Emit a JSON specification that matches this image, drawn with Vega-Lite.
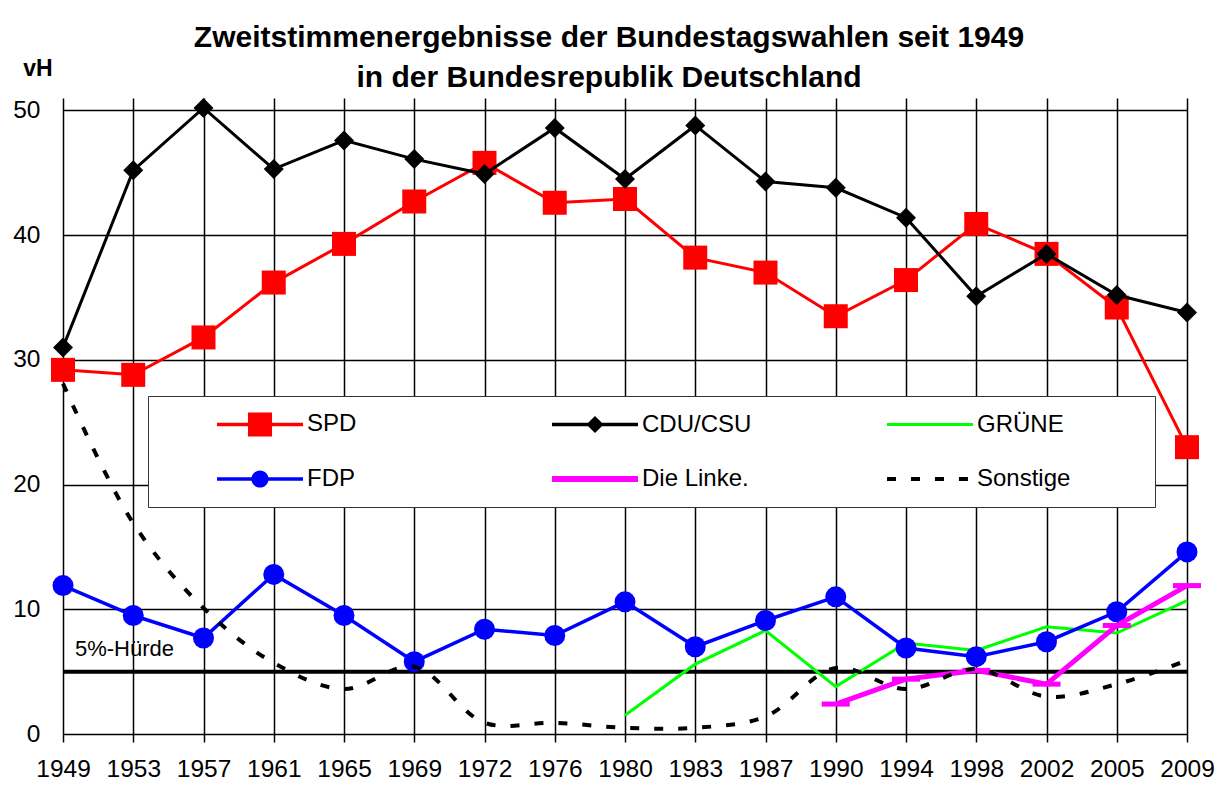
{
  "$schema": "https://vega.github.io/schema/vega-lite/v6.json",
  "width": 1124,
  "height": 636,
  "autosize": {"type": "none"},
  "padding": {"left": 63, "top": 98, "right": 32, "bottom": 54},
  "background": "white",
  "title": {
    "text": ["Zweitstimmenergebnisse der Bundestagswahlen seit 1949", "in der Bundesrepublik Deutschland"],
    "font": "Liberation Sans",
    "fontSize": 30,
    "fontWeight": "bold",
    "color": "black",
    "lineHeight": 40,
    "anchor": "middle",
    "frame": "group",
    "offset": 0,
    "dx": -16,
    "dy": 36
  },
  "datasets": {
    "votes": [
      {"year": "1949", "party": "SPD", "value": 29.2},
      {"year": "1953", "party": "SPD", "value": 28.8},
      {"year": "1957", "party": "SPD", "value": 31.8},
      {"year": "1961", "party": "SPD", "value": 36.2},
      {"year": "1965", "party": "SPD", "value": 39.3},
      {"year": "1969", "party": "SPD", "value": 42.7},
      {"year": "1972", "party": "SPD", "value": 45.8},
      {"year": "1976", "party": "SPD", "value": 42.6},
      {"year": "1980", "party": "SPD", "value": 42.9},
      {"year": "1983", "party": "SPD", "value": 38.2},
      {"year": "1987", "party": "SPD", "value": 37.0},
      {"year": "1990", "party": "SPD", "value": 33.5},
      {"year": "1994", "party": "SPD", "value": 36.4},
      {"year": "1998", "party": "SPD", "value": 40.9},
      {"year": "2002", "party": "SPD", "value": 38.5},
      {"year": "2005", "party": "SPD", "value": 34.2},
      {"year": "2009", "party": "SPD", "value": 23.0},
      {"year": "1949", "party": "CDU/CSU", "value": 31.0},
      {"year": "1953", "party": "CDU/CSU", "value": 45.2},
      {"year": "1957", "party": "CDU/CSU", "value": 50.2},
      {"year": "1961", "party": "CDU/CSU", "value": 45.3},
      {"year": "1965", "party": "CDU/CSU", "value": 47.6},
      {"year": "1969", "party": "CDU/CSU", "value": 46.1},
      {"year": "1972", "party": "CDU/CSU", "value": 44.9},
      {"year": "1976", "party": "CDU/CSU", "value": 48.6},
      {"year": "1980", "party": "CDU/CSU", "value": 44.5},
      {"year": "1983", "party": "CDU/CSU", "value": 48.8},
      {"year": "1987", "party": "CDU/CSU", "value": 44.3},
      {"year": "1990", "party": "CDU/CSU", "value": 43.8},
      {"year": "1994", "party": "CDU/CSU", "value": 41.4},
      {"year": "1998", "party": "CDU/CSU", "value": 35.1},
      {"year": "2002", "party": "CDU/CSU", "value": 38.5},
      {"year": "2005", "party": "CDU/CSU", "value": 35.2},
      {"year": "2009", "party": "CDU/CSU", "value": 33.8},
      {"year": "1980", "party": "GRÜNE", "value": 1.5},
      {"year": "1983", "party": "GRÜNE", "value": 5.6},
      {"year": "1987", "party": "GRÜNE", "value": 8.3},
      {"year": "1990", "party": "GRÜNE", "value": 3.8},
      {"year": "1994", "party": "GRÜNE", "value": 7.3},
      {"year": "1998", "party": "GRÜNE", "value": 6.7},
      {"year": "2002", "party": "GRÜNE", "value": 8.6},
      {"year": "2005", "party": "GRÜNE", "value": 8.1},
      {"year": "2009", "party": "GRÜNE", "value": 10.7},
      {"year": "1949", "party": "FDP", "value": 11.9},
      {"year": "1953", "party": "FDP", "value": 9.5},
      {"year": "1957", "party": "FDP", "value": 7.7},
      {"year": "1961", "party": "FDP", "value": 12.8},
      {"year": "1965", "party": "FDP", "value": 9.5},
      {"year": "1969", "party": "FDP", "value": 5.8},
      {"year": "1972", "party": "FDP", "value": 8.4},
      {"year": "1976", "party": "FDP", "value": 7.9},
      {"year": "1980", "party": "FDP", "value": 10.6},
      {"year": "1983", "party": "FDP", "value": 7.0},
      {"year": "1987", "party": "FDP", "value": 9.1},
      {"year": "1990", "party": "FDP", "value": 11.0},
      {"year": "1994", "party": "FDP", "value": 6.9},
      {"year": "1998", "party": "FDP", "value": 6.2},
      {"year": "2002", "party": "FDP", "value": 7.4},
      {"year": "2005", "party": "FDP", "value": 9.8},
      {"year": "2009", "party": "FDP", "value": 14.6},
      {"year": "1990", "party": "Die Linke.", "value": 2.4},
      {"year": "1994", "party": "Die Linke.", "value": 4.4},
      {"year": "1998", "party": "Die Linke.", "value": 5.1},
      {"year": "2002", "party": "Die Linke.", "value": 4.0},
      {"year": "2005", "party": "Die Linke.", "value": 8.7},
      {"year": "2009", "party": "Die Linke.", "value": 11.9},
      {"year": "1949", "party": "Sonstige", "value": 28.1},
      {"year": "1953", "party": "Sonstige", "value": 16.9},
      {"year": "1957", "party": "Sonstige", "value": 10.1},
      {"year": "1961", "party": "Sonstige", "value": 5.7},
      {"year": "1965", "party": "Sonstige", "value": 3.6},
      {"year": "1969", "party": "Sonstige", "value": 5.4},
      {"year": "1972", "party": "Sonstige", "value": 0.9},
      {"year": "1976", "party": "Sonstige", "value": 0.9},
      {"year": "1980", "party": "Sonstige", "value": 0.5},
      {"year": "1983", "party": "Sonstige", "value": 0.5},
      {"year": "1987", "party": "Sonstige", "value": 1.4},
      {"year": "1990", "party": "Sonstige", "value": 5.3},
      {"year": "1994", "party": "Sonstige", "value": 3.6},
      {"year": "1998", "party": "Sonstige", "value": 5.2},
      {"year": "2002", "party": "Sonstige", "value": 3.0},
      {"year": "2005", "party": "Sonstige", "value": 4.0},
      {"year": "2009", "party": "Sonstige", "value": 5.9}
    ]
  },
  "config": {
    "font": "Liberation Sans",
    "view": {"stroke": null},
    "axisX": {
      "labelFont": "Liberation Sans", "labelFontSize": 24.5, "labelColor": "black", "labelAngle": 0,
      "labelPadding": 15, "tickColor": "black", "tickSize": 8, "tickWidth": 1.5,
      "domain": false, "grid": true, "gridColor": "black", "gridWidth": 1.5, "gridOpacity": 1
    },
    "axisY": {
      "labelFont": "Liberation Sans", "labelFontSize": 24.5, "labelColor": "black",
      "labelPadding": 23, "ticks": false, "domain": false,
      "grid": true, "gridColor": "black", "gridWidth": 1.5, "gridOpacity": 1,
      "titleAngle": 0, "titleX": -25.5, "titleY": -23, "titleAlign": "center", "titleBaseline": "alphabetic",
      "titleFont": "Liberation Sans", "titleFontSize": 23, "titleFontWeight": "bold", "titleColor": "black"
    },
    "legend": {
      "symbolStrokeWidth": 0,
      "symbolOpacity": 1,
      "symbolSize": 462.25,
      "labelFont": "Liberation Sans",
      "labelFontSize": 24,
      "labelColor": "black",
      "labelLimit": 400
    }
  },
  "layer": [
    {
      "data": {"values": [{"threshold": 5}]},
      "mark": {"type": "rule", "color": "black", "strokeWidth": 4},
      "encoding": {
        "y": {"field": "threshold", "type": "quantitative", "title": "vH", "scale": {"domain": [0, 51], "nice": false, "zero": true}, "axis": {"values": [0, 10, 20, 30, 40, 50]}}
      }
    },
    {
      "data": {"values": [{"label": "5%-Hürde", "year": "1949", "threshold": 5}]},
      "mark": {"type": "text", "align": "left", "baseline": "alphabetic", "dx": 12, "dy": -16, "fontSize": 22, "font": "Liberation Sans", "color": "black"},
      "encoding": {
        "x": {"field": "year", "type": "ordinal", "title": null},
        "y": {"field": "threshold", "type": "quantitative", "title": "vH"},
        "text": {"field": "label"}
      }
    },
    {
      "data": {"name": "votes"},
      "transform": [{"filter": "datum.party === 'SPD'"}],
      "mark": {"type": "line", "color": "#FF0000", "strokeWidth": 3},
      "encoding": {
        "x": {"field": "year", "type": "ordinal", "title": null, "scale": {"type": "point", "padding": 0}},
        "y": {"field": "value", "type": "quantitative", "title": "vH"}
      }
    },
    {
      "data": {"name": "votes"},
      "transform": [{"filter": "datum.party === 'SPD'"}],
      "mark": {"type": "point", "shape": "square", "filled": true, "color": "#FF0000", "size": 576, "opacity": 1, "strokeWidth": 0},
      "encoding": {
        "x": {"field": "year", "type": "ordinal", "title": null},
        "y": {"field": "value", "type": "quantitative", "title": "vH"}
      }
    },
    {
      "data": {"name": "votes"},
      "transform": [{"filter": "datum.party === 'CDU/CSU'"}],
      "mark": {"type": "line", "color": "#000000", "strokeWidth": 3},
      "encoding": {
        "x": {"field": "year", "type": "ordinal", "title": null},
        "y": {"field": "value", "type": "quantitative", "title": "vH"}
      }
    },
    {
      "data": {"name": "votes"},
      "transform": [{"filter": "datum.party === 'CDU/CSU'"}],
      "mark": {"type": "point", "shape": "diamond", "filled": true, "color": "#000000", "size": 400, "opacity": 1, "strokeWidth": 0},
      "encoding": {
        "x": {"field": "year", "type": "ordinal", "title": null},
        "y": {"field": "value", "type": "quantitative", "title": "vH"}
      }
    },
    {
      "data": {"name": "votes"},
      "transform": [{"filter": "datum.party === 'GRÜNE'"}],
      "mark": {"type": "line", "color": "#00FF00", "strokeWidth": 3},
      "encoding": {
        "x": {"field": "year", "type": "ordinal", "title": null},
        "y": {"field": "value", "type": "quantitative", "title": "vH"}
      }
    },
    {
      "data": {"name": "votes"},
      "transform": [{"filter": "datum.party === 'FDP'"}],
      "mark": {"type": "line", "color": "#0000FF", "strokeWidth": 3.5},
      "encoding": {
        "x": {"field": "year", "type": "ordinal", "title": null},
        "y": {"field": "value", "type": "quantitative", "title": "vH"}
      }
    },
    {
      "data": {"name": "votes"},
      "transform": [{"filter": "datum.party === 'FDP'"}],
      "mark": {"type": "point", "shape": "circle", "filled": true, "color": "#0000FF", "size": 441, "opacity": 1, "strokeWidth": 0},
      "encoding": {
        "x": {"field": "year", "type": "ordinal", "title": null},
        "y": {"field": "value", "type": "quantitative", "title": "vH"}
      }
    },
    {
      "data": {"name": "votes"},
      "transform": [{"filter": "datum.party === 'Die Linke.'"}],
      "mark": {"type": "line", "color": "#FF00FF", "strokeWidth": 5},
      "encoding": {
        "x": {"field": "year", "type": "ordinal", "title": null},
        "y": {"field": "value", "type": "quantitative", "title": "vH"}
      }
    },
    {
      "data": {"name": "votes"},
      "transform": [{"filter": "datum.party === 'Die Linke.'"}],
      "mark": {"type": "point", "shape": "M-1,-0.18H1V0.18H-1Z", "filled": true, "color": "#FF00FF", "size": 784, "opacity": 1, "strokeWidth": 0},
      "encoding": {
        "x": {"field": "year", "type": "ordinal", "title": null},
        "y": {"field": "value", "type": "quantitative", "title": "vH"}
      }
    },
    {
      "data": {"name": "votes"},
      "transform": [{"filter": "datum.party === 'Sonstige'"}],
      "mark": {"type": "line", "color": "#000000", "strokeWidth": 4, "strokeDash": [9, 15], "interpolate": "catmull-rom"},
      "encoding": {
        "x": {"field": "year", "type": "ordinal", "title": null},
        "y": {"field": "value", "type": "quantitative", "title": "vH"}
      }
    },
    {
      "data": {"name": "votes"},
      "mark": {"type": "point", "filled": true, "opacity": 0, "size": 462.25},
      "encoding": {
        "x": {"field": "year", "type": "ordinal", "title": null},
        "y": {"field": "value", "type": "quantitative", "title": "vH"},
        "color": {
          "field": "party", "type": "nominal",
          "scale": {
            "domain": ["SPD", "CDU/CSU", "GRÜNE", "FDP", "Die Linke.", "Sonstige"],
            "range": ["#FF0000", "#000000", "#00FF00", "#0000FF", "#FF00FF", "#000000"]
          },
          "legend": {
            "orient": "none", "legendX": 85, "legendY": 298, "direction": "horizontal",
            "columns": 3, "gridAlign": "all",
            "title": " ", "titleOrient": "left", "titleFontSize": 1, "titlePadding": 53,
            "padding": 16, "fillColor": "white", "strokeColor": "#333333", "cornerRadius": 0,
            "symbolOffset": 31, "labelOffset": 35, "rowPadding": 30, "columnPadding": 83
          }
        },
        "shape": {
          "field": "party", "type": "nominal",
          "scale": {
            "domain": ["SPD", "CDU/CSU", "GRÜNE", "FDP", "Die Linke.", "Sonstige"],
            "range": [
              "M-4,-0.16H4V0.16H-4Z M-1.12,-1.12H1.12V1.12H-1.12Z",
              "M-4,-0.16H4V0.16H-4Z M0,-0.8L0.8,0L0,0.8L-0.8,0Z",
              "M-4,-0.14H4V0.14H-4Z M19.4,0",
              "M-4,-0.17H4V0.17H-4Z M-0.8,0A0.8,0.8,0,1,1,0.8,0A0.8,0.8,0,1,1,-0.8,0Z",
              "M-4,-0.28H4V0.28H-4Z",
              "M-4,-0.19H-3.16V0.19H-4Z M-1.77,-0.19H-0.93V0.19H-1.77Z M0.46,-0.19H1.3V0.19H0.46Z M2.69,-0.19H3.53V0.19H2.69Z"
            ]
          },
          "legend": {
            "orient": "none", "legendX": 85, "legendY": 298, "direction": "horizontal",
            "columns": 3, "gridAlign": "all",
            "title": " ", "titleOrient": "left", "titleFontSize": 1, "titlePadding": 53,
            "padding": 16, "fillColor": "white", "strokeColor": "#333333", "cornerRadius": 0,
            "symbolOffset": 31, "labelOffset": 35, "rowPadding": 30, "columnPadding": 83
          }
        }
      }
    }
  ]
}
